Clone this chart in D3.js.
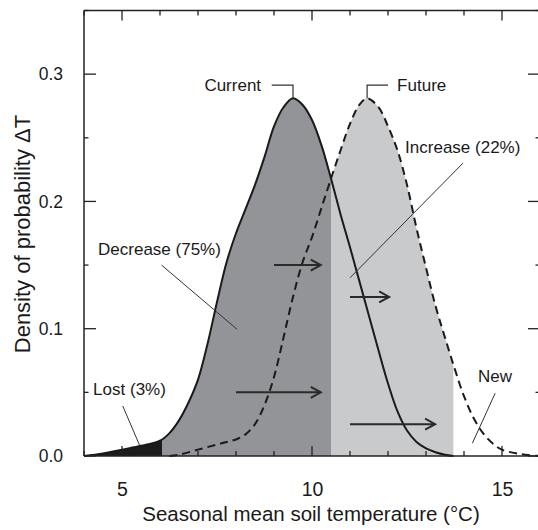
<!DOCTYPE html>
<html>
<head>
<meta charset="utf-8">
<script src="https://cdn.jsdelivr.net/npm/d3@7"></script>
<style>
  body { margin: 0; background: #fff; }
  svg { display: block; font-family: "Liberation Sans", Arial, Helvetica, sans-serif; }
</style>
</head>
<body>
<svg id="chart" width="538" height="530"></svg>
<script>
// ---- data ----
const currentTemp = [4.0, 4.5, 5.0, 5.5, 6.0, 6.25, 6.5, 6.75, 7.0, 7.25, 7.5, 7.75, 8.0, 8.25, 8.5, 8.75, 9.0, 9.25, 9.5, 9.75, 10.0, 10.25, 10.5, 10.75, 11.0, 11.25, 11.5, 11.75, 12.0, 12.25, 12.5, 12.75, 13.0, 13.25, 13.5, 13.72];
const currentDens = [0.000, 0.002, 0.005, 0.008, 0.012, 0.018, 0.028, 0.042, 0.060, 0.088, 0.121, 0.152, 0.175, 0.194, 0.213, 0.235, 0.259, 0.274, 0.281, 0.276, 0.264, 0.244, 0.218, 0.190, 0.164, 0.137, 0.110, 0.083, 0.057, 0.035, 0.020, 0.011, 0.006, 0.003, 0.001, 0.000];

const futureTemp = [6.25, 6.5, 7.0, 7.5, 7.75, 8.0, 8.25, 8.5, 8.75, 9.0, 9.25, 9.5, 9.75, 10.0, 10.25, 10.5, 10.75, 11.0, 11.25, 11.45, 11.75, 12.0, 12.25, 12.5, 12.75, 13.0, 13.25, 13.5, 13.75, 14.0, 14.25, 14.5, 14.75, 15.0, 15.5, 16.0];
const futureDens = [0.000, 0.001, 0.005, 0.009, 0.011, 0.013, 0.017, 0.025, 0.040, 0.062, 0.093, 0.125, 0.152, 0.172, 0.195, 0.218, 0.240, 0.261, 0.276, 0.281, 0.274, 0.259, 0.240, 0.213, 0.179, 0.148, 0.118, 0.093, 0.069, 0.047, 0.030, 0.018, 0.010, 0.005, 0.0015, 0.000];

// region boundaries (°C): lost | decrease | increase
const regionBreaks = [4.0, 6.05, 10.5, 13.72];

const xTicks = [4, 5, 6, 7, 8, 9, 10, 11, 12, 13, 14, 15, 16];
const xTickLabels = [5, 10, 15];
const yTicks = [0, 0.05, 0.1, 0.15, 0.2, 0.25, 0.3, 0.35];
const yTickLabels = ["0.0", "0.1", "0.2", "0.3"];

// arrows (shift of the distribution)
const arrowFrom = [9.0, 11.0, 8.0, 11.0];
const arrowTo   = [10.23, 12.03, 10.23, 13.24];
const arrowDens = [0.150, 0.125, 0.050, 0.025];

// ---- layout ----
const svg = d3.select("#chart");
const x = d3.scaleLinear().domain([4, 16]).range([84, 540]);
const y = d3.scaleLinear().domain([0, 0.35]).range([456, 10.5]);

const current = currentTemp.map((t, i) => ({t, d: currentDens[i]}));
const future = futureTemp.map((t, i) => ({t, d: futureDens[i]}));

const defs = svg.append("defs");
function clipRange(id, a, b) {
  defs.append("clipPath").attr("id", id).append("rect")
    .attr("x", x(a)).attr("y", 0)
    .attr("width", x(b) - x(a)).attr("height", y(0) + 1);
}
clipRange("clipLost", regionBreaks[0], regionBreaks[1]);
clipRange("clipDec", regionBreaks[1], regionBreaks[2]);
clipRange("clipInc", regionBreaks[2], regionBreaks[3]);

const curve = d3.curveCatmullRom.alpha(0.5);
const area = d3.area().x(p => x(p.t)).y0(y(0)).y1(p => y(p.d)).curve(curve);
const line = d3.line().x(p => x(p.t)).y(p => y(p.d)).curve(curve);

svg.append("path").datum(current).attr("d", area).attr("fill", "#1c1c1c").attr("clip-path", "url(#clipLost)");
svg.append("path").datum(current).attr("d", area).attr("fill", "#939497").attr("clip-path", "url(#clipDec)");
svg.append("path").datum(future).attr("d", area).attr("fill", "#c9cacc").attr("clip-path", "url(#clipInc)");

// curves
svg.append("path").datum(future).attr("d", line)
  .attr("fill", "none").attr("stroke", "#1a1a1a").attr("stroke-width", 2)
  .attr("stroke-dasharray", "8,5");
svg.append("path").datum(current).attr("d", line)
  .attr("fill", "none").attr("stroke", "#1a1a1a").attr("stroke-width", 2);

// arrows
const arrowG = svg.append("g").attr("stroke", "#2a2a2a").attr("stroke-width", 2).attr("fill", "none");
arrowFrom.forEach((a, i) => {
  const x0 = x(a), x1 = x(arrowTo[i]), yy = y(arrowDens[i]);
  arrowG.append("line").attr("x1", x0).attr("x2", x1).attr("y1", yy).attr("y2", yy);
  arrowG.append("path").attr("d", `M${x1 - 10},${yy - 5.5}L${x1},${yy}L${x1 - 10},${yy + 5.5}`);
});

// frame & axes
const axisColor = "#222";
const frame = svg.append("g").attr("stroke", axisColor).attr("stroke-width", 1.5).attr("fill", "none");
frame.append("line").attr("x1", x(4)).attr("x2", x(16)).attr("y1", y(0)).attr("y2", y(0));
frame.append("line").attr("x1", x(4)).attr("x2", x(16)).attr("y1", y(0.35)).attr("y2", y(0.35));
frame.append("line").attr("x1", x(4)).attr("x2", x(4)).attr("y1", y(0)).attr("y2", y(0.35));
frame.append("line").attr("x1", x(16)).attr("x2", x(16)).attr("y1", y(0)).attr("y2", y(0.35));

const isMajorX = t => xTickLabels.includes(t);
const isMajorY = v => Math.abs(Math.round(v * 10) - v * 10) < 1e-6 && v < 0.35;

// bottom axis labels
const bottomAxis = d3.axisBottom(x).tickValues(xTickLabels).tickSize(0).tickPadding(26)
  .tickFormat(d3.format("d"));
const gB = svg.append("g").attr("transform", `translate(0,${y(0)})`).call(bottomAxis);
gB.select(".domain").remove();
gB.selectAll("text").attr("font-size", 19.5).attr("fill", "#1a1a1a").attr("font-family", "Liberation Sans, Arial, sans-serif");

// inward ticks on all four sides
const tickG = svg.append("g").attr("stroke", axisColor).attr("stroke-width", 1.3);
xTicks.forEach(t => {
  const L = isMajorX(t) ? 10 : 5;
  tickG.append("line").attr("x1", x(t)).attr("x2", x(t)).attr("y1", y(0)).attr("y2", y(0) - L);
  tickG.append("line").attr("x1", x(t)).attr("x2", x(t)).attr("y1", y(0.35)).attr("y2", y(0.35) + L);
});
yTicks.forEach(v => {
  const L = isMajorY(v) ? 12 : 4.5;
  tickG.append("line").attr("x1", x(4)).attr("x2", x(4) + L).attr("y1", y(v)).attr("y2", y(v));
  tickG.append("line").attr("x1", x(16)).attr("x2", x(16) - L).attr("y1", y(v)).attr("y2", y(v));
});

const leftAxis = d3.axisLeft(y).tickValues(yTickLabels.map(Number)).tickSize(0).tickPadding(21)
  .tickFormat(d3.format(".1f"));
const gL = svg.append("g").attr("transform", `translate(${x(4)},0)`).call(leftAxis);
gL.select(".domain").remove();
gL.selectAll("text").attr("font-size", 17.5).attr("fill", "#1a1a1a").attr("font-family", "Liberation Sans, Arial, sans-serif");

// axis titles
svg.append("text").attr("x", 311).attr("y", 521).attr("text-anchor", "middle")
  .attr("font-size", 20.5).attr("fill", "#1a1a1a")
  .text("Seasonal mean soil temperature (°C)");
svg.append("text").attr("transform", "translate(29.5,234) rotate(-90)").attr("text-anchor", "middle")
  .attr("font-size", 22).attr("fill", "#1a1a1a")
  .text("Density of probability ΔT");

// annotations (positions in data units)
const ann = svg.append("g").attr("font-size", 17).attr("fill", "#1a1a1a");
const lead = svg.append("g").attr("stroke", "#333").attr("stroke-width", 1).attr("fill", "none");

const peakCur = current.reduce((a, b) => b.d > a.d ? b : a);
const peakFut = future.reduce((a, b) => b.d > a.d ? b : a);
ann.append("text").attr("x", x(8.66)).attr("y", y(0.2867)).attr("text-anchor", "end").text("Current");
lead.append("path").attr("stroke-width", 1.2)
  .attr("d", `M${x(8.94)},${y(0.2914)}H${x(peakCur.t)}V${y(peakCur.d)}`);
ann.append("text").attr("x", x(12.24)).attr("y", y(0.2867)).text("Future");
lead.append("path").attr("stroke-width", 1.2)
  .attr("d", `M${x(12.0)},${y(0.2914)}H${x(peakFut.t)}V${y(peakFut.d)}`);

ann.append("text").attr("x", x(12.45)).attr("y", y(0.238)).text("Increase (22%)");
lead.append("line").attr("x1", x(13.97)).attr("y1", y(0.230)).attr("x2", x(11.0)).attr("y2", y(0.140));

ann.append("text").attr("x", x(4.37)).attr("y", y(0.158)).text("Decrease (75%)");
lead.append("line").attr("x1", x(6.04)).attr("y1", y(0.150)).attr("x2", x(8.03)).attr("y2", y(0.0995));

ann.append("text").attr("x", x(4.24)).attr("y", y(0.048)).text("Lost (3%)");
lead.append("line").attr("x1", x(5.02)).attr("y1", y(0.0393)).attr("x2", x(5.46)).attr("y2", y(0.0086));

ann.append("text").attr("x", x(14.37)).attr("y", y(0.058)).text("New");
lead.append("line").attr("x1", x(14.82)).attr("y1", y(0.0493)).attr("x2", x(14.22)).attr("y2", y(0.010));
</script>
</body>
</html>
